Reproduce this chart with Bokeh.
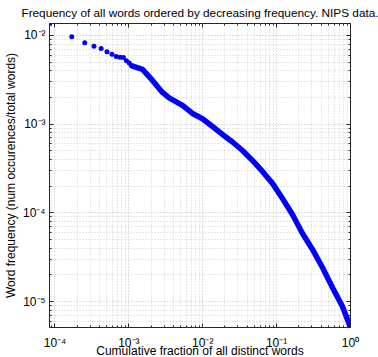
from bokeh.plotting import figure
from bokeh.models import Range1d, FixedTicker, LogAxis, CustomJSTickFormatter
from bokeh.embed import file_html
from bokeh.resources import INLINE

# ---- data ----
n_distinct_words = 11860
head_ranks = [1, 2, 3, 4, 5, 6, 7, 8, 9, 10, 11, 12, 13]
head_freq = [0.01365, 0.00967, 0.00828, 0.00757, 0.00713, 0.00654, 0.00615,
             0.00579, 0.00569, 0.00565, 0.00519, 0.00488, 0.00455]
tail_fraction = [0.00110, 0.00153, 0.00209, 0.00244, 0.00285, 0.00355, 0.00532,
                 0.00726, 0.00991, 0.01355, 0.0185, 0.0253, 0.0345, 0.0471,
                 0.0643, 0.0879, 0.120, 0.164, 0.224, 0.306, 0.417, 0.570,
                 0.778, 1.0]
tail_freq = [0.00455, 0.00414, 0.00311, 0.00266, 0.00228, 0.00197, 0.00163,
             0.00132, 0.00115, 0.000942, 0.000766, 0.000630, 0.000505, 0.000390,
             0.000293, 0.000215, 0.000145, 0.0000959, 0.0000586, 0.0000387,
             0.0000242, 0.0000144, 0.0000088, 0.0000051]
x_major = [1e-4, 1e-3, 1e-2, 1e-1, 1e0]
y_major = [1e-5, 1e-4, 1e-3, 1e-2]

head_fraction = [r / n_distinct_words for r in head_ranks]

def minors(decades):
    out = []
    for d in decades:
        for k in range(2, 10):
            out.append(k * d)
    return out

x_minor = minors([1e-5, 1e-4, 1e-3, 1e-2, 1e-1])
y_minor = minors([1e-6, 1e-5, 1e-4, 1e-3, 1e-2])

FONT = "Liberation Sans"
BLUE = "#0000ff"

p = figure(frame_width=301, frame_height=304, x_axis_type="log", y_axis_type="log",
           x_range=Range1d(1.0 / n_distinct_words, 1.0),
           y_range=Range1d(tail_freq[-1], head_freq[0]),
           output_backend="svg", toolbar_location=None,
           min_border_left=0, min_border_right=30, min_border_top=23,
           min_border_bottom=0)

p.title.text = "Frequency of all words ordered by decreasing frequency. NIPS data."
p.title.align = "center"
p.title.text_font = FONT
p.title.text_font_size = "11.8px"
p.title.text_font_style = "normal"
p.title.text_color = "#000000"
p.title.offset = 0
p.title.standoff = 0

fmt = CustomJSTickFormatter(code="""
const sup = {"-": "\\u207b", "0": "\\u2070", "1": "\\u00b9", "2": "\\u00b2",
             "3": "\\u00b3", "4": "\\u2074", "5": "\\u2075"};
const e = Math.round(Math.log(tick) / Math.LN10);
const s = String(e);
let out = "10";
for (let i = 0; i < s.length; i++) { out += sup[s[i]]; }
return out;
""")
blank = CustomJSTickFormatter(code="return ' ';")

xt = FixedTicker(ticks=x_major, minor_ticks=x_minor)
yt = FixedTicker(ticks=y_major, minor_ticks=y_minor)

def style_axis(ax, show_labels):
    ax.axis_line_color = "#262626"
    ax.axis_line_width = 1
    ax.major_tick_line_color = "#262626"
    ax.minor_tick_line_color = "#262626"
    ax.major_tick_in = 4
    ax.major_tick_out = 0
    ax.minor_tick_in = 2
    ax.minor_tick_out = 0
    ax.major_label_text_font = FONT
    ax.major_label_text_font_size = "12px"
    ax.major_label_text_color = "#000000"
    ax.axis_label_text_font = FONT
    ax.axis_label_text_font_size = "12px"
    ax.axis_label_text_font_style = "normal"
    ax.axis_label_text_color = "#000000"
    if not show_labels:
        ax.formatter = blank
        ax.major_label_text_font_size = "1px"
        ax.major_label_standoff = 0

xa = p.xaxis[0]
ya = p.yaxis[0]
xa.ticker = xt
ya.ticker = yt
xa.formatter = fmt
ya.formatter = fmt
style_axis(xa, True)
style_axis(ya, True)
xa.axis_label = "Cumulative fraction of all distinct words"
ya.axis_label = "Word frequency (num occurences/total words)"
xa.major_label_standoff = 8
ya.major_label_standoff = 4
xa.axis_label_standoff = -9
ya.axis_label_standoff = 2

top = LogAxis(ticker=xt)
style_axis(top, False)
p.add_layout(top, "above")
right = LogAxis(ticker=yt)
style_axis(right, False)
p.add_layout(right, "right")

for g, t in ((p.xgrid[0], xt), (p.ygrid[0], yt)):
    g.ticker = t
    g.grid_line_color = "#bdbdbd"
    g.grid_line_dash = "1 2"
    g.grid_line_width = 1
    g.minor_grid_line_color = "#d0d0d0"
    g.minor_grid_line_dash = "1 2"
    g.minor_grid_line_width = 1

p.outline_line_color = "#262626"
p.background_fill_color = "#ffffff"
p.border_fill_color = "#ffffff"

p.line(tail_fraction, tail_freq, line_color=BLUE, line_width=5.5,
       line_cap="round", line_join="round")
p.scatter(head_fraction, head_freq, size=5, color=BLUE, line_color=None)

open("out.html", "w").write(file_html(p, INLINE))
